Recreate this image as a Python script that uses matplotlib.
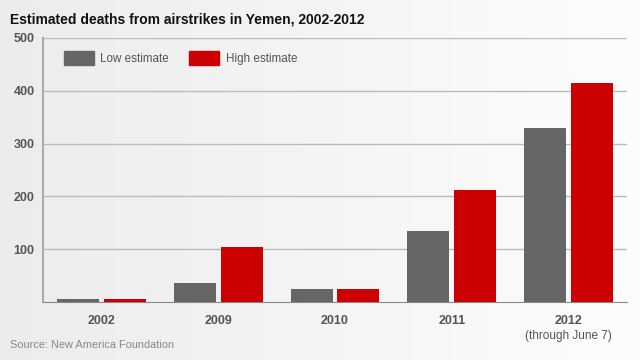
import numpy as np
import matplotlib.pyplot as plt
import matplotlib.patches as mpatches
from matplotlib.colors import LinearSegmentedColormap

plt.rcParams['font.family'] = ['Liberation Sans', 'DejaVu Sans']

years = ['2002', '2009', '2010', '2011', '2012']
low_est = [5, 36, 25, 135, 330]
high_est = [5, 104, 25, 212, 415]

GREY, RED = '#666666', '#cc0000'

fig = plt.figure(figsize=(6.4, 3.6), dpi=100)

# soft grey-to-white background
bg = fig.add_axes([0, 0, 1, 1], zorder=-10)
grad = np.linspace(0, 1, 256)
bg.imshow(np.vstack([grad, grad]), aspect='auto', extent=[0, 1, 0, 1],
          cmap=LinearSegmentedColormap.from_list('bg', ['#ececec', '#fdfdfd']))
bg.set_axis_off()

ax = fig.add_axes([43 / 640, 1 - 302 / 360, 584 / 640, 264 / 360])
ax.set_facecolor('none')

x = np.arange(len(years))
w = 0.36
ax.bar(x - 0.2, low_est, w, color=GREY, zorder=3)
ax.bar(x + 0.2, high_est, w, color=RED, zorder=3)

ax.set_xlim(-0.5, 4.5)
ax.set_ylim(0, 500)
ax.set_yticks([100, 200, 300, 400, 500])
ax.yaxis.grid(True, color='#bbbbbb', lw=1)
ax.set_axisbelow(True)
for s in ['top', 'right']:
    ax.spines[s].set_visible(False)
ax.spines['left'].set_color('#aaaaaa')
ax.spines['left'].set_linewidth(1.5)
ax.spines['bottom'].set_color('#888888')
ax.tick_params(axis='both', length=0, labelsize=9, labelcolor='#555555')
for lbl in ax.get_yticklabels():
    lbl.set_fontweight('bold')
ax.tick_params(axis='y', pad=6)

ax.set_xticks(x)
ax.set_xticklabels(years, fontweight='bold')
ax.tick_params(axis='x', pad=9)
ax.text(4, -0.13, '(through June 7)', transform=ax.get_xaxis_transform(),
        ha='center', va='center', fontsize=8.5, color='#555555')

handles = [mpatches.Patch(color=GREY, label='Low estimate'),
           mpatches.Patch(color=RED, label='High estimate')]
ax.legend(handles=handles, loc='upper left', bbox_to_anchor=(0.018, 0.99),
          ncol=2, frameon=False, fontsize=8.4, labelcolor='#555555',
          handlelength=2.55, handleheight=1.45, columnspacing=1.75,
          handletextpad=0.55)

fig.text(10 / 640, 1 - 19 / 360, 'Estimated deaths from airstrikes in Yemen, 2002-2012',
         fontsize=10, fontweight='bold', color='#111111', va='center')
fig.text(10 / 640, 1 - 345 / 360, 'Source: New America Foundation',
         fontsize=7.9, color='#888888', va='center')

fig.savefig('out.png', dpi=100)
